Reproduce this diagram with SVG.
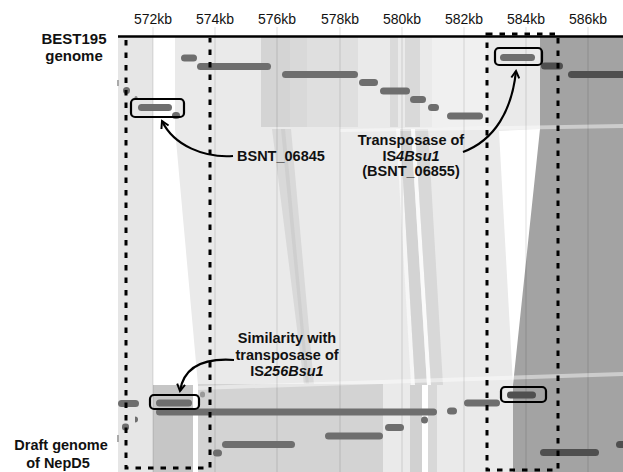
<svg xmlns="http://www.w3.org/2000/svg" width="623" height="472" viewBox="0 0 623 472">
<defs>
<style>
.lbl{font-family:"Liberation Sans",Arial,sans-serif;font-weight:bold;font-size:14.5px;fill:#111;}
.tick{font-family:"Liberation Sans",Arial,sans-serif;font-size:14px;fill:#111;text-anchor:middle;}
.grid{stroke:#000;stroke-opacity:0.13;stroke-width:1;}
.g{fill:#6e6e6e;}
.gd{fill:#4f4f4f;}
.box{fill:none;stroke:#000;stroke-width:2.2;}
.dash{fill:none;stroke:#000;stroke-width:3;stroke-dasharray:5.5 7;}
.arr{fill:none;stroke:#000;stroke-width:2.2;marker-end:url(#ah);}
</style>
<marker id="ah" viewBox="0 0 10 10" refX="8" refY="5" markerWidth="4.5" markerHeight="4.5" orient="auto" markerUnits="strokeWidth">
<path d="M1,1 L8,5 L1,9" fill="none" stroke="#000" stroke-width="2"/>
</marker>
</defs>
<rect width="623" height="472" fill="#fff"/>
<g id="shading">
<rect x="118" y="37" width="35" height="435" fill="#e6e6e6"/>
<polygon points="175,37 540,37 540,129 499,131 513,385 513,472 198,472 198,385 175,129" fill="#eaeaea"/>
<polygon points="540,37 623,37 623,472 513,472 513,385 540,129" fill="#a3a3a3"/>
<rect x="261" y="37" width="29" height="90" fill="#d4d4d4"/>
<rect x="290" y="37" width="17" height="90" fill="#d9d9d9"/>
<rect x="307" y="37" width="51" height="90" fill="#dfdfdf"/>
<rect x="390" y="37" width="8" height="90" fill="#dadada"/>
<rect x="405" y="37" width="15" height="90" fill="#d9d9d9"/>
<rect x="432" y="37" width="55" height="90" fill="#f0f0f0"/>
<polygon points="272,129 291,129 314,385 304,385" fill="#d9d9d9"/>
<polygon points="281,129 285,129 309,385 306,385" fill="#cfcfcf"/>
<polygon points="396,129 400,129 415,385 411,385" fill="#f6f6f6"/>
<polygon points="400,129 411,129 427,385 415,385" fill="#d3d3d3"/>
<polygon points="411,129 415,129 431,385 427,385" fill="#fafafa"/>
<polygon points="415,129 428,129 443,385 431,385" fill="#d8d8d8"/>
<rect x="153" y="385" width="40" height="87" fill="#c6c6c6"/>
<rect x="193" y="385" width="5" height="87" fill="#fff"/>
<rect x="198" y="384" width="185" height="88" fill="#d3d3d3"/>
<rect x="410" y="385" width="12" height="87" fill="#d1d1d1"/>
<rect x="422" y="385" width="6" height="87" fill="#fff"/>
<rect x="428" y="385" width="9" height="87" fill="#d8d8d8"/>
<polygon points="340,129 623,124 623,128 340,132" fill="#fff" fill-opacity="0.45"/>
<polygon points="198,386 623,372 623,376 198,390" fill="#fff" fill-opacity="0.45"/>
</g>
<g id="grid">
<line class="grid" x1="153" y1="27" x2="153" y2="472"/>
<line class="grid" x1="215" y1="27" x2="215" y2="472"/>
<line class="grid" x1="277" y1="27" x2="277" y2="472"/>
<line class="grid" x1="340" y1="27" x2="340" y2="472"/>
<line class="grid" x1="402" y1="27" x2="402" y2="472"/>
<line class="grid" x1="464" y1="27" x2="464" y2="472"/>
<line class="grid" x1="526" y1="27" x2="526" y2="472"/>
<line class="grid" x1="588" y1="27" x2="588" y2="472"/>
</g>
<g id="axis">
<text class="tick" x="153" y="24">572kb</text>
<text class="tick" x="215" y="24">574kb</text>
<text class="tick" x="277" y="24">576kb</text>
<text class="tick" x="340" y="24">578kb</text>
<text class="tick" x="402" y="24">580kb</text>
<text class="tick" x="464" y="24">582kb</text>
<text class="tick" x="526" y="24">584kb</text>
<text class="tick" x="588" y="24">586kb</text>
<line x1="118" y1="36.5" x2="623" y2="36.5" stroke="#000" stroke-width="2.5"/>
</g>
<g id="genome-labels">
<text class="lbl" x="74" y="44" text-anchor="middle" style="font-size:15px">BEST195</text>
<text class="lbl" x="74" y="61" text-anchor="middle" style="font-size:15px">genome</text>
<text class="lbl" x="61" y="450" text-anchor="middle" style="font-size:14.5px">Draft genome</text>
<text class="lbl" x="58" y="467.5" text-anchor="middle" style="font-size:14.5px">of NepD5</text>
</g>
<g id="genes-top">
<rect class="g" x="181" y="54.5" width="16" height="7" rx="3.5"/>
<rect class="g" x="197" y="63" width="74" height="7" rx="3.5"/>
<rect class="g" x="282" y="71" width="76" height="7" rx="3.5"/>
<rect class="g" x="359" y="79" width="19" height="7" rx="3.5"/>
<rect class="g" x="380" y="87.5" width="30" height="7" rx="3.5"/>
<rect class="g" x="410" y="96" width="16" height="7" rx="3.5"/>
<rect class="g" x="428" y="104" width="11" height="7" rx="3.5"/>
<rect class="g" x="447" y="112.5" width="36" height="7" rx="3.5"/>
<rect class="g" x="500" y="54" width="35" height="7" rx="3.5"/>
<rect class="gd" x="541" y="62.5" width="22" height="7" rx="3.5"/>
<rect class="gd" x="568" y="71" width="60" height="7" rx="3.5"/>
<rect class="g" x="123" y="87" width="7" height="7" rx="3.5"/>
<rect fill="#aaa" x="117" y="80" width="2" height="6"/>
<circle fill="#888" cx="136" cy="97.5" r="1.5"/>
<rect class="g" x="138" y="104" width="34" height="7" rx="3.5"/>
<rect class="g" x="172" y="112" width="8" height="7" rx="3.5"/>
</g>
<g id="genes-bottom">
<rect class="g" x="118" y="400" width="21" height="7" rx="3.5"/>
<rect class="g" x="156" y="399.5" width="36" height="7" rx="3.5"/>
<rect fill="#999" x="200" y="391.5" width="5" height="6" rx="2.5"/>
<rect class="g" x="156" y="408.5" width="281" height="7" rx="3.5"/>
<rect class="g" x="447" y="407.5" width="10" height="7" rx="3.5"/>
<rect class="g" x="464" y="399.5" width="36" height="7" rx="3.5"/>
<rect class="gd" x="507" y="391.5" width="29" height="7" rx="3.5"/>
<rect class="g" x="421" y="416.5" width="7" height="7" rx="3.5"/>
<rect class="g" x="385" y="424" width="19" height="7" rx="3.5"/>
<rect class="g" x="325" y="432.5" width="58" height="7" rx="3.5"/>
<rect class="gd" x="540" y="449" width="59" height="7" rx="3.5"/>
<rect class="gd" x="616" y="441" width="12" height="7" rx="3.5"/>
<path class="g" d="M135,416.5 A3,3 0 0 1 135,422.5 Z"/>
<rect class="g" x="122" y="423.5" width="7" height="7" rx="3"/>
<rect fill="#aaa" x="117" y="435" width="2" height="7"/>
<rect class="g" x="222" y="441" width="73" height="7" rx="3.5"/>
<rect class="g" x="213" y="449.5" width="9" height="7" rx="3.5"/>
</g>
<g id="regions">
<path class="dash" d="M126,40 V468 H210 V38"/>
<rect class="dash" x="487" y="34" width="71" height="436"/>
</g>
<g id="node-bsnt06845">
<rect class="box" x="131" y="99" width="53" height="18" rx="4"/>
<text class="lbl" x="237" y="160.5">BSNT_06845</text>
</g>
<g id="node-is4bsu1">
<rect class="box" x="495" y="48" width="47" height="17" rx="4"/>
<text class="lbl" x="411" y="144.5" text-anchor="middle">Transposase of</text>
<text class="lbl" x="411" y="160.5" text-anchor="middle">IS<tspan font-style="italic">4Bsu1</tspan></text>
<text class="lbl" x="411" y="176" text-anchor="middle">(BSNT_06855)</text>
</g>
<g id="node-is256bsu1">
<rect class="box" x="150" y="395" width="49" height="14" rx="4"/>
<rect class="box" x="501" y="387" width="45" height="15" rx="4"/>
<text class="lbl" x="287" y="343" text-anchor="middle">Similarity with</text>
<text class="lbl" x="287" y="360" text-anchor="middle">transposase of</text>
<text class="lbl" x="287" y="376" text-anchor="middle">IS<tspan font-style="italic">256Bsu1</tspan></text>
</g>
<g id="connectors">
<path class="arr" d="M233,156 C205,158 174,146 162,121"/>
<path class="arr" d="M463,152 C495,140 512,110 516,71"/>
<path class="arr" d="M234,360 C205,358 184,366 180,391"/>
</g>
</svg>
